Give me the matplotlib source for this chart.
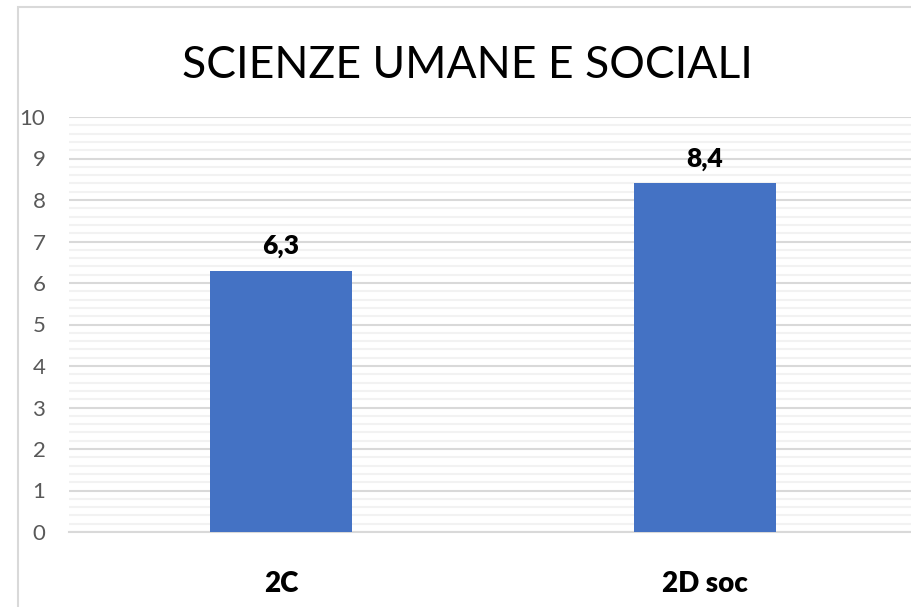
import matplotlib
matplotlib.use('Agg')
import matplotlib.pyplot as plt
from matplotlib.patches import Rectangle
from matplotlib.ticker import MultipleLocator

# Data
categories = ['2C', '2D soc']
values = [6.3, 8.4]
value_labels = ['6,3', '8,4']
title = 'SCIENZE UMANE E SOCIALI'

plt.rcParams['font.family'] = ['Lato', 'DejaVu Sans']

fig = plt.figure(figsize=(9.11, 6.07), dpi=100)
ax = fig.add_axes([69 / 911, 1 - 532 / 607, 848 / 911, 415 / 607])

# Chart border
fig.patches.append(Rectangle((18 / 911, -0.05), 1.0, 1 - 7 / 607 + 0.05,
                             transform=fig.transFigure, fill=False,
                             edgecolor='#d9d9d9', linewidth=1.5))

x = list(range(len(categories)))
ax.bar(x, values, width=0.335, color='#4472c4', zorder=3)

for xi, v, lab in zip(x, values, value_labels):
    ax.text(xi, v + 0.3, lab, ha='center', va='bottom', fontsize=19,
            fontweight='heavy', color='black')

ax.set_xlim(-0.5, 1.5)
ax.set_ylim(0, 10)
ax.yaxis.set_major_locator(MultipleLocator(1))
ax.yaxis.set_minor_locator(MultipleLocator(0.2))
ax.grid(axis='y', which='major', color='#d9d9d9', linewidth=1.5, zorder=0)
ax.grid(axis='y', which='minor', color='#f2f2f2', linewidth=1.5, zorder=0)
ax.grid(axis='x', visible=False)

for side in ['top', 'right', 'left']:
    ax.spines[side].set_visible(False)
ax.spines['bottom'].set_color('#d9d9d9')
ax.spines['bottom'].set_linewidth(1.5)

ax.set_xticks(x)
ax.set_xticklabels(categories, fontsize=20, fontweight='heavy', color='black')
ax.tick_params(axis='x', length=0, pad=28)
ax.tick_params(axis='y', which='both', length=0, labelsize=16,
               labelcolor='#595959', pad=17)

fig.text(467 / 911, 1 - 66 / 607, title, ha='center', va='center',
         fontsize=32, color='black')

plt.savefig('out.png', dpi=100)
plt.close()
